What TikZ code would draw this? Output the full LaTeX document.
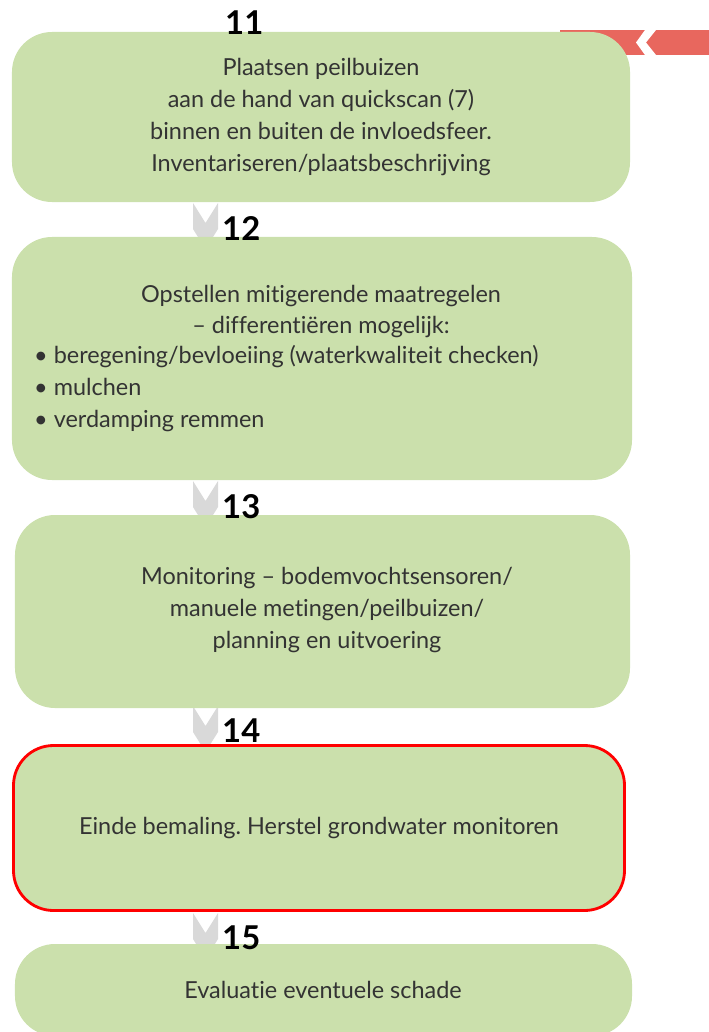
\documentclass[tikz,border=0pt]{standalone}
\usepackage{fontspec}
\setmainfont{Lato}[Ligatures=NoCommon]
\frenchspacing
\definecolor{boxgreen}{HTML}{CBE0AC}
\definecolor{bandred}{HTML}{E8675E}
\definecolor{chevgray}{HTML}{D9D9D9}

\begin{document}
\begin{tikzpicture}[
    x=0.03cm, y=-0.03cm,
    stepbox/.style={fill=boxgreen, rounded corners=1.2cm, inner sep=0pt, text=black!80, font=\fontsize{20}{27.3}\selectfont, align=center},
    txt/.style={inner sep=0pt, text=black!80, font=\fontsize{20}{27.3}\selectfont},
    num/.style={inner sep=0pt, anchor=south west, font=\fontsize{28}{30}\selectfont\bfseries},
    chev/.style={fill=chevgray},
    hilite/.style={draw=red, line width=2.4pt},
]
\path[use as bounding box, clip] (0,0) rectangle (709,1032);

% ── Red band top right ──
\fill[bandred] (560,30) rectangle (709,55);
\fill[white] (645,30) -- (656,30) -- (646,42.5) -- (656,55) -- (645,55) -- (636,42.5) -- cycle;

% ── Chevrons between steps ──
\coordinate (c1) at (205.5,203);
\coordinate (c2) at (205.5,481);
\coordinate (c3) at (205.5,706);
\coordinate (c4) at (205.5,913);
\foreach \c in {c1,c2,c3,c4}
  \fill[chev] (\c) ++(-12.5,0) -- ++(12.5,20) -- ++(12.5,-20) -- ++(0,26) -- ++(-12.5,20) -- ++(-12.5,-20) -- cycle;

% ── Steps ──
\node[stepbox, minimum width=18.54cm, minimum height=5.1cm] (b11) at (321,117)
  {Plaatsen peilbuizen\\aan de hand van quickscan (7)\\binnen en buiten de invloedsfeer.\\Inventariseren/plaatsbeschrijving};

\node[stepbox, minimum width=18.6cm, minimum height=7.29cm] (b12) at (322,358.5) {};
\node[txt, align=center] (t12a) at (321,311.5) {Opstellen mitigerende maatregelen\\– differentiëren mogelijk:};
\node[txt, align=left, anchor=west] (t12b) at (34,389)
  {\textbullet\ beregening/bevloeiing (waterkwaliteit checken)\\\textbullet\ mulchen\\\textbullet\ verdamping remmen};

\node[stepbox, minimum width=18.45cm, minimum height=5.79cm] (b13) at (322.5,611.5) {};
\node[txt, align=center] (t13) at (327,610)
  {Monitoring – bodemvochtsensoren/\\manuele metingen/peilbuizen/\\planning en uitvoering};

\node[stepbox, hilite, minimum width=18.33cm, minimum height=4.95cm] (b14) at (319,828)
  {Einde bemaling. Herstel grondwater monitoren};

\node[stepbox, minimum width=18.51cm, minimum height=2.76cm] (b15) at (323.5,990) {};
\node[txt] (t15) at (323,990) {Evaluatie eventuele schade};

% ── Step numbers ──
\node[num] (n11) at (225,35) {11};
\node[num] (n12) at (222,241) {12};
\node[num] (n13) at (222,519) {13};
\node[num] (n14) at (222,743) {14};
\node[num] (n15) at (222,950) {15};

\end{tikzpicture}
\end{document}
